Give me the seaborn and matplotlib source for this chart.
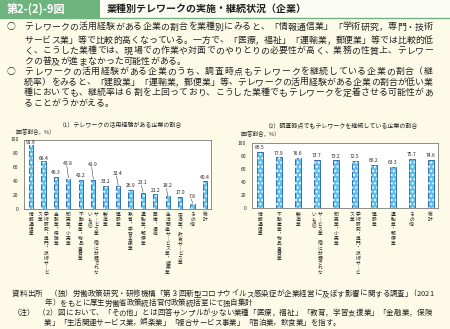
import matplotlib
matplotlib.use("Agg")
import matplotlib.pyplot as plt
import seaborn as sns
import pandas as pd
from matplotlib.patches import Rectangle
from matplotlib.lines import Line2D

# ---------------- data ----------------
left_categories = ["情報通信業", "学術研究，専門・技術サービス業", "金融業，保険業", "卸売業，小売業",
                   "不動産業，物品賃貸業", "サービス業（他に分類されないもの）", "製造業", "建設業",
                   "教育，学習支援業", "運輸業，郵便業", "医療，福祉", "生活関連サービス業，娯楽業",
                   "宿泊業，飲食サービス業", "その他", "総計"]
left_values = [91.9, 68.4, 46.3, 43.8, 42.2, 41.9, 33.2, 32.4, 26.9, 23.1, 21.2, 18.2, 17.0, 7.8, 40.4]

right_categories = ["情報通信業", "不動産業，物品賃貸業", "製造業", "サービス業（他に分類されないもの）",
                    "卸売業，小売業", "学術研究，専門・技術サービス業", "建設業", "運輸業，郵便業",
                    "その他", "総計"]
right_values = [86.5, 77.9, 76.6, 73.7, 73.2, 72.5, 66.2, 63.3, 75.7, 74.6]

y_ticks = [0, 20, 40, 60, 80, 100]

figure_no = "第2-(2)-9図"
title = "業種別テレワークの実施・継続状況（企業）"
left_subtitle = "（1）テレワークの活用経験がある企業の割合"
right_subtitle = "（2）調査時点でもテレワークを継続している企業の割合"
unit_label = "（回答割合，%）"

body_lines = [
    "テレワークの活用経験がある企業の割合を業種別にみると、「情報通信業」「学術研究，専門・技術",
    "サービス業」等で比較的高くなっている。一方で、「医療，福祉」「運輸業，郵便業」等では比較的低",
    "く、こうした業種では、現場での作業や対面でのやりとりの必要性が高く、業務の性質上、テレワー",
    "クの普及が進まなかった可能性がある。",
    "テレワークの活用経験がある企業のうち、調査時点もテレワークを継続している企業の割合（継",
    "続率）をみると、「建設業」「運輸業，郵便業」等、テレワークの活用経験がある企業の割合が低い業",
    "種においても、継続率は６割を上回っており、こうした業種でもテレワークを定着させる可能性があ",
    "ることがうかがえる。",
]
footer_lines = [
    "資料出所　（独）労働政策研究・研修機構「第３回新型コロナウイルス感染症が企業経営に及ぼす影響に関する調査」(2021",
    "年）をもとに厚生労働省政策統括官付政策統括室にて独自集計",
    "（2）図において、「その他」とは回答サンプルが少ない業種「医療，福祉」「教育，学習支援業」「金融業，保険",
    "業」「生活関連サービス業，娯楽業」「複合サービス事業」「宿泊業，飲食業」を指す。",
]
note_label = "（注）"

# ---------------- style ----------------
# extra lift (value units) of value labels; some use leader lines
left_label_lift = [4.5, 4.5, 5.5, 22, 6.5, 22, 6, 19, 7.5, 15, 6, 15, 6.5, 10, 4.5]
left_leader = [False, False, False, True, False, True, False, True, False, True, False, True, False, True, False]
right_label_lift = [6.5] * len(right_values)

W, H = 450, 329
PT = 0.72
BG = "#fdfbe8"
TITLE_BG = "#fbfcf3"
GREEN = "#6fb47e"
TXT = "#222222"
BAR = "#5cc0ee"
EDGE = "#1f5ea8"

sns.set_theme(style="white")
plt.rcParams["font.family"] = ["Noto Sans CJK JP", "DejaVu Sans"]
plt.rcParams["hatch.linewidth"] = 0.9

fig = plt.figure(figsize=(W / 100, H / 100), dpi=100, facecolor=BG)


def fx(x):
    return x / W


def fy(y):
    return 1 - y / H


# ---------------- header ----------------
fig.add_artist(Rectangle((0, fy(17.5)), fx(100), 17.5 / H, transform=fig.transFigure,
                         facecolor=GREEN, edgecolor="none"))
fig.add_artist(Rectangle((fx(100), fy(17.5)), 1 - fx(100), 17.5 / H, transform=fig.transFigure,
                         facecolor=TITLE_BG, edgecolor="none"))
fig.add_artist(Line2D([0, 1], [fy(17.8), fy(17.8)], transform=fig.transFigure, color=GREEN, lw=1.0))
fig.text(fx(7), fy(8.8), figure_no, color="white", fontsize=8, fontweight="bold", ha="left", va="center")
fig.text(fx(107), fy(8.8), title, color=TXT, fontsize=7.2, fontweight="bold", ha="left", va="center")


def char_w(c):
    return 0.55 if ord(c) < 0x2000 else 1.0


def justified(line, y, x0, x1=None, pitch=None, fs=6.4, color=TXT):
    total = sum(char_w(c) for c in line)
    if x1 is not None:
        pitch = (x1 - x0) / total
    pos = x0
    for ch in line:
        w = char_w(ch) * pitch
        fig.text(fx(pos + w / 2), fy(y), ch, ha="center", va="center", fontsize=fs, color=color)
        pos += w


# ---------------- body text ----------------
body_y = [27, 40.3, 50.9, 61.4, 71.9, 82.4, 92.9, 103.4]
fig.text(fx(11), fy(body_y[0]), "○", ha="center", va="center", fontsize=6.4, color=TXT)
fig.text(fx(11), fy(body_y[4]), "○", ha="center", va="center", fontsize=6.4, color=TXT)
for k, (line, y) in enumerate(zip(body_lines, body_y)):
    if k in (3, 7):
        justified(line, y, 24, pitch=9.0)
    else:
        justified(line, y, 24, 433)

# ---------------- charts ----------------
VMAP = {"ー": "｜", "（": "︵", "）": "︶", "，": "︐", "、": "︑"}


def vertical_columns(name, wrap=13):
    chars = [VMAP.get(c, c) for c in name]
    return [chars[i:i + wrap] for i in range(0, len(chars), wrap)]


def draw_vlabels(ax, cats, top_px, pitch_px=4.85, col_px=6.0, fs=3.4):
    for i, name in enumerate(cats):
        cols = vertical_columns(name)
        n = len(cols)
        for k, col in enumerate(cols):
            dx = ((n - 1) / 2 - k) * col_px
            for j, ch in enumerate(col):
                dy = top_px + j * pitch_px
                ax.annotate(ch, xy=(i, 0), xycoords=("data", "axes fraction"),
                            xytext=(dx * PT, -dy * PT), textcoords="offset points",
                            ha="center", va="center", fontsize=fs, color=TXT,
                            annotation_clip=False)


def make_chart(rect, cats, vals, lifts, leaders, xlim, label_top, width):
    ax = fig.add_axes(rect)
    ax.set_facecolor("white")
    df = pd.DataFrame({"cat": cats, "val": vals})
    sns.barplot(data=df, x="cat", y="val", order=cats, color=BAR, saturation=1,
                edgecolor=EDGE, linewidth=0.6, width=width, ax=ax)
    bars = list(ax.patches)
    for p in bars:
        ax.add_patch(Rectangle(p.get_xy(), p.get_width(), p.get_height(), fill=False,
                               hatch="....", edgecolor="white", linewidth=0))
    ax.set_xlim(*xlim)
    ax.set_ylim(0, 100)
    ax.set_xticks([])
    ax.set_yticks(y_ticks)
    ax.set_yticklabels([str(t) for t in y_ticks])
    ax.tick_params(axis="y", length=0, pad=4, labelsize=3.6, labelcolor=TXT)
    ax.set_xlabel("")
    ax.set_ylabel("")
    for s in ax.spines.values():
        s.set_color("#7a7a7a")
        s.set_linewidth(0.6)
    for i, (v, lift, lead) in enumerate(zip(vals, lifts, leaders)):
        ax.text(i, v + lift, f"{v:.1f}", ha="center", va="center", fontsize=3.6, color=TXT)
        if lead:
            ax.plot([i - 0.12, i + 0.02], [v + lift - 3.5, v + 0.8], color="#444444", lw=0.4)
    draw_vlabels(ax, cats, label_top)
    return ax


make_chart([fx(24), fy(209), (211 - 24) / W, (209 - 139.5) / H],
           left_categories, left_values, left_label_lift, left_leader,
           (-0.56, 14.48), 5.5, 0.34)
make_chart([fx(251.7), fy(208), (438 - 251.7) / W, (208 - 143) / H],
           right_categories, right_values, right_label_lift, [False] * len(right_values),
           (-0.44, 9.385), 6.5, 0.32)

fig.text(fx(121), fy(125), left_subtitle, ha="center", va="center", fontsize=4.3, color=TXT)
fig.text(fx(342), fy(125.5), right_subtitle, ha="center", va="center", fontsize=4.3, color=TXT)
fig.text(fx(11), fy(131.5), unit_label, ha="left", va="center", fontsize=4.0, color=TXT)
fig.text(fx(236), fy(134), unit_label, ha="left", va="center", fontsize=4.0, color=TXT)

# ---------------- footer ----------------
justified(footer_lines[0], 294, 12, 433, fs=5.4)
justified(footer_lines[1], 303.5, 45, pitch=7.4, fs=5.4)
fig.text(fx(13), fy(313.3), note_label, ha="left", va="center", fontsize=5.4, color=TXT)
justified(footer_lines[2], 313.3, 38, 432, fs=5.4)
justified(footer_lines[3], 322.5, 44, pitch=7.4, fs=5.4)

fig.savefig("out.png", dpi=100, facecolor=BG)
